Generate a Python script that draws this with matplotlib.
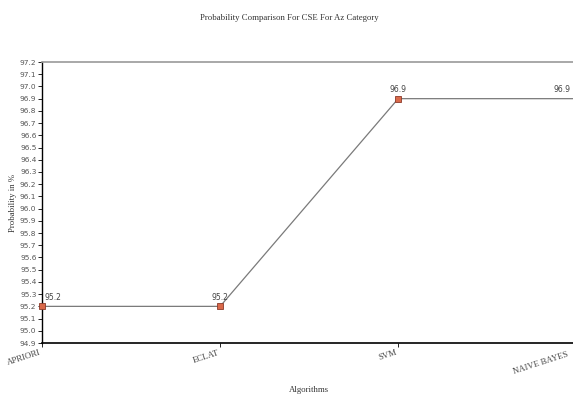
#!/usr/bin/env python3

import numpy as np
import matplotlib
matplotlib.use('Agg')
import matplotlib.pyplot as plt

algorithms = ['APRIORI', 'ECLAT', 'SVM', 'NAIVE BAYES']
probability = [95.2, 95.2, 96.9, 96.9]
y_ticks = np.round(np.arange(94.9, 97.21, 0.1), 1)

serif = 'Liberation Serif'


def main():
    fig = plt.figure(figsize=(5.73, 3.96), dpi=100)
    # the plot runs a little past the right edge of the picture, like the original
    ax = fig.add_axes([0.0733, 0.1338, 0.9325, 0.7096])

    x = np.arange(len(algorithms))
    ax.plot(x, probability, color='#7a7a7a', lw=0.9, marker='s', ms=4,
            mfc='#d9694a', mec='#8b3a2a', mew=0.6, clip_on=False, zorder=3)

    n = len(probability)
    for i, v in enumerate(probability):
        if i == 0:
            ha, dx = 'left', 2
        elif i == n - 1:
            ha, dx = 'right', -4
        else:
            ha, dx = 'center', 0
        ax.annotate('%.1f' % v, (x[i], v), xytext=(dx, 3), textcoords='offset points',
                    ha=ha, va='bottom', fontsize=5.5, color='#444444',
                    annotation_clip=False)

    ax.set_xlim(0, 3)
    ax.set_ylim(94.9, 97.2)
    ax.set_yticks(y_ticks)
    ax.set_yticklabels(['%.1f' % t for t in y_ticks], fontsize=5.3, color='#555555')
    ax.set_xticks(x)
    # last label is placed by hand below so the edge does not cut it
    ax.set_xticklabels(algorithms[:-1] + [''], rotation=18, ha='right', fontsize=6.3,
                       family=serif, color='#444444')
    ax.annotate(algorithms[-1], (x[-1], 0), xycoords=ax.get_xaxis_transform(),
                xytext=(-5, -5.5), textcoords='offset points', rotation=18,
                ha='right', va='top', fontsize=6.3, family=serif, color='#444444',
                annotation_clip=False)
    ax.tick_params(axis='y', length=3, width=0.6, pad=1)
    ax.tick_params(axis='x', length=3, width=0.6, pad=1)

    ax.spines['left'].set_color('black')
    ax.spines['bottom'].set_color('black')
    ax.spines['left'].set_linewidth(1.0)
    ax.spines['bottom'].set_linewidth(1.2)
    ax.spines['top'].set_color('#999999')
    ax.spines['top'].set_linewidth(1.2)
    ax.spines['right'].set_visible(False)

    ax.set_xlabel('Algorithms', family=serif, fontsize=6.3, color='#333333', labelpad=14)
    ax.set_ylabel('Probability in %', family=serif, fontsize=6.3, color='#333333', labelpad=2)
    fig.text(0.505, 0.955, 'Probability Comparison For CSE For Az Category',
             family=serif, fontsize=6.3, color='#333333', ha='center', va='center')

    fig.savefig('out.png', dpi=100)


if __name__ == '__main__':
    main()
